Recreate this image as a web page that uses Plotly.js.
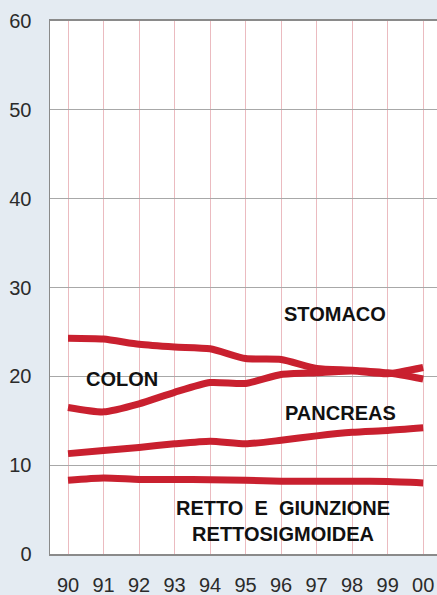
<!DOCTYPE html>
<html>
<head>
<meta charset="utf-8">
<script src="https://cdn.plot.ly/plotly-3.0.1.min.js"></script>
<style>
html,body{margin:0;padding:0;background:#e4ebf2;}
#chart{width:437px;height:595px;}
</style>
</head>
<body>
<div id="chart"></div>
<script>
const years = [0,1,2,3,4,5,6,7,8,9,10];
const yearLabels = ["90","91","92","93","94","95","96","97","98","99","00"];
const stomaco = [24.3,24.2,23.6,23.3,23.1,22.0,21.9,20.9,20.7,20.4,19.7];
const colon = [16.5,16.0,16.9,18.2,19.3,19.2,20.2,20.4,20.6,20.3,21.0];
const pancreas = [11.3,11.65,12.0,12.4,12.7,12.4,12.8,13.3,13.7,13.9,14.2];
const retto = [8.3,8.55,8.4,8.4,8.35,8.3,8.2,8.2,8.2,8.15,8.0];
const yTicks = [0,10,20,30,40,50,60];

const red = '#c9202f';
function line(y, name){
  return {x: years, y: y, name: name, type: 'scatter', mode: 'lines',
          line: {color: red, width: 7, shape: 'spline', smoothing: 0.6},
          hoverinfo: 'skip', showlegend: false};
}
const data = [line(stomaco,'STOMACO'), line(colon,'COLON'), line(pancreas,'PANCREAS'), line(retto,'RETTO')];

const font = {family: '"Liberation Sans", Arial, sans-serif', size: 20, color: '#2b2b2b'};
const annFont = {family: '"Liberation Sans", Arial, sans-serif', size: 20, color: '#111', weight: 'bold'};

const layout = {
  width: 437, height: 595,
  margin: {l: 50, r: 0, t: 21, b: 41, pad: 0},
  paper_bgcolor: '#e4ebf2',
  plot_bgcolor: '#ffffff',
  font: font,
  showlegend: false,
  xaxis: {
    range: [-0.507, 10.39],
    tickvals: years, ticktext: yearLabels,
    showgrid: true, gridcolor: 'rgba(215,120,130,0.5)', gridwidth: 1,
    zeroline: false,
    showline: true, linecolor: '#8a8a8a', linewidth: 2, mirror: true,
    ticks: '', ticklabelstandoff: 12,
    tickfont: font, fixedrange: true
  },
  yaxis: {
    range: [0, 60],
    tickvals: yTicks,
    showgrid: true, gridcolor: '#a8a8a8', gridwidth: 1,
    zeroline: false,
    showline: true, linecolor: '#8a8a8a', linewidth: 1.5,
    ticks: '', ticklabelstandoff: 13,
    tickfont: font, fixedrange: true
  },
  annotations: [
    {x: 7.52, y: 27.0, xref: 'x', yref: 'y', text: 'STOMACO', showarrow: false, font: annFont},
    {x: 1.52, y: 19.75, xref: 'x', yref: 'y', text: 'COLON', showarrow: false, font: annFont},
    {x: 7.66, y: 15.9, xref: 'x', yref: 'y', text: 'PANCREAS', showarrow: false, font: annFont},
    {x: 6.04, y: 3.66, xref: 'x', yref: 'y', text: 'RETTO  E  GIUNZIONE<br>RETTOSIGMOIDEA', showarrow: false, font: annFont, align: 'center'}
  ]
};

Plotly.newPlot('chart', data, layout, {displayModeBar: false, staticPlot: true});
</script>
</body>
</html>
